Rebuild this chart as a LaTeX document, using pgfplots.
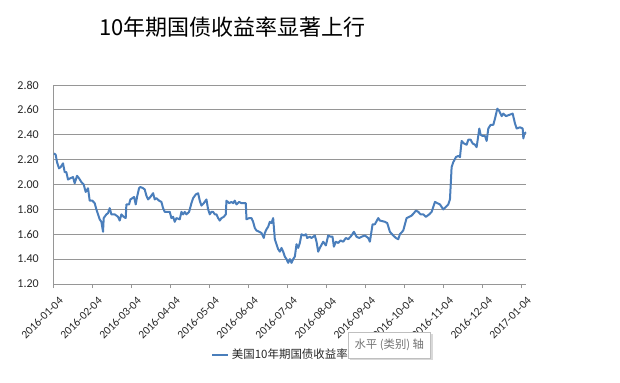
\documentclass[border=0pt]{standalone}
\usepackage{fontspec}
\setmainfont{Carlito}
\newfontfamily\cjk{Noto Sans CJK SC}
\usepackage{pgfplots}
\usepackage{pgfplotstable}
\pgfplotsset{compat=1.18}
\definecolor{serblue}{RGB}{74,126,187}
\definecolor{gridgray}{RGB}{150,150,150}
\definecolor{labgray}{RGB}{40,40,40}
\pgfplotstableread{
x y
163 2.25
168 2.24
172 2.18
178 2.13
183 2.14
190 2.17
195 2.10
200 2.10
205 2.04
212 2.05
220 2.06
225 2.01
232 2.07
238 2.05
245 2.02
252 2.00
258 1.94
265 1.97
270 1.87
278 1.87
285 1.85
290 1.80
295 1.76
300 1.72
305 1.70
310 1.62
312 1.73
320 1.76
325 1.77
330 1.81
335 1.76
345 1.76
355 1.74
360 1.71
365 1.76
372 1.74
378 1.73
380 1.84
388 1.84
392 1.88
398 1.89
403 1.90
408 1.84
412 1.90
418 1.97
422 1.98
430 1.97
435 1.96
440 1.91
445 1.88
452 1.90
460 1.93
465 1.88
470 1.89
478 1.87
485 1.86
490 1.81
495 1.78
505 1.78
510 1.78
515 1.73
520 1.74
525 1.70
530 1.73
540 1.72
545 1.78
550 1.76
555 1.78
560 1.76
568 1.78
575 1.85
580 1.89
588 1.92
595 1.93
600 1.87
605 1.83
612 1.85
620 1.88
625 1.80
630 1.76
635 1.78
640 1.78
645 1.76
650 1.76
655 1.73
660 1.71
665 1.73
672 1.74
678 1.76
680 1.87
688 1.85
695 1.86
700 1.85
705 1.87
710 1.84
718 1.86
725 1.85
738 1.85
740 1.72
748 1.73
755 1.73
760 1.70
765 1.65
770 1.63
778 1.62
785 1.61
792 1.57
795 1.61
800 1.64
805 1.66
810 1.70
815 1.69
820 1.73
825 1.56
830 1.52
835 1.48
840 1.46
845 1.49
850 1.46
855 1.42
860 1.40
865 1.37
870 1.40
875 1.37
880 1.40
885 1.42
890 1.52
895 1.49
900 1.53
905 1.60
912 1.59
918 1.60
922 1.57
930 1.58
935 1.57
940 1.58
945 1.59
950 1.54
955 1.46
960 1.49
970 1.54
978 1.51
985 1.59
992 1.58
998 1.58
1002 1.50
1008 1.54
1015 1.53
1022 1.55
1030 1.54
1038 1.57
1045 1.56
1055 1.59
1062 1.62
1070 1.58
1078 1.57
1085 1.58
1095 1.59
1105 1.57
1110 1.54
1118 1.68
1125 1.68
1135 1.73
1140 1.71
1155 1.70
1162 1.69
1170 1.62
1180 1.59
1188 1.57
1195 1.56
1200 1.60
1210 1.63
1220 1.73
1228 1.74
1235 1.75
1242 1.77
1248 1.79
1255 1.78
1262 1.76
1270 1.76
1278 1.74
1288 1.76
1295 1.78
1305 1.86
1312 1.85
1320 1.84
1330 1.80
1338 1.82
1345 1.84
1350 1.88
1355 2.14
1360 2.18
1368 2.22
1375 2.23
1380 2.22
1385 2.35
1392 2.33
1400 2.32
1405 2.36
1412 2.36
1418 2.33
1425 2.32
1430 2.30
1438 2.45
1442 2.40
1448 2.39
1455 2.39
1460 2.35
1465 2.45
1472 2.48
1480 2.48
1485 2.53
1492 2.61
1498 2.59
1505 2.55
1510 2.57
1518 2.55
1528 2.56
1538 2.57
1545 2.49
1550 2.45
1560 2.46
1568 2.45
1570 2.37
1573 2.41
1578 2.42
}\yields
\begin{document}
\begin{tikzpicture}[x=1pt,y=1pt]
\path[use as bounding box, fill=white] (0,0) rectangle (465,286.5);
\begin{axis}[
  at={(39.75pt,73.5pt)}, anchor=south west,
  scale only axis, width=354.75pt, height=149.25pt,
  xmin=160, xmax=1578, ymin=1.2, ymax=2.8,
  axis x line*=bottom, axis y line*=left,
  axis line style={-, gridgray, line width=0.75pt},
  ymajorgrids, grid style={gridgray, line width=0.6pt},
  tick align=outside, major tick length=3pt,
  xtick style={gridgray, line width=0.6pt},
  ytick style={draw=none},
  xtick={160,277,394,511,628,745,862,979,1096,1213,1330,1447,1564},
  xticklabels={2016-01-04,2016-02-04,2016-03-04,2016-04-04,2016-05-04,2016-06-04,2016-07-04,2016-08-04,2016-09-04,2016-10-04,2016-11-04,2016-12-04,2017-01-04},
  ytick={1.2,1.4,1.6,1.8,2.0,2.2,2.4,2.6,2.8},
  /pgf/number format/assume math mode=true,
  yticklabel style={/pgf/number format/.cd, fixed, fixed zerofill, precision=2, /tikz/.cd, font=\fontsize{9}{10}\selectfont, text=labgray, anchor=east, inner sep=0pt, xshift=-7.5pt},
  xticklabel style={font=\fontsize{8.6}{10}\selectfont, text=labgray, rotate=45, anchor=north east, inner sep=0pt, xshift=-1.5pt, yshift=-7pt},
  legend style={at={(0.334,-0.357)}, anchor=west, draw=none, fill=none, inner sep=0pt, font=\cjk\fontsize{8.6}{10}\selectfont, text=labgray},
  legend image code/.code={\draw[#1] (0pt,0pt) -- (12pt,0pt);},
  clip=false,
]
\addplot[color=serblue, line width=1.5pt, line join=round, no marks] table[x=x, y=y] {\yields};
\addlegendentry{美国10年期国债收益率}
\end{axis}
\node[font=\cjk\fontsize{16.5}{20}\selectfont, text=black] at (174.4,266.25) {10年期国债收益率显著上行};
\fill[black!15] (262.5,16.5) rectangle (324.75,36);
\node[draw=black!25, fill=white, minimum width=62pt, minimum height=19.5pt, inner sep=0pt, font=\cjk\fontsize{8.5}{10}\selectfont, text=black!55] at (292,27.75) {水平 (类别) 轴};
\end{tikzpicture}
\end{document}
